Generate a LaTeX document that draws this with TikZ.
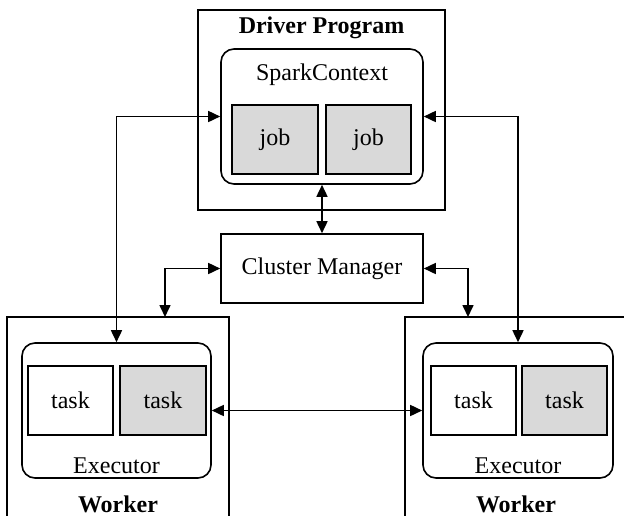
\documentclass[tikz,border=0pt]{standalone}
\usepackage{fontspec}
\setmainfont{Liberation Serif}
\usetikzlibrary{arrows.meta,calc}
\begin{document}
\begin{tikzpicture}[x=1pt,y=-1pt,
  every node/.style={font=\fontsize{24}{28}\selectfont},
  outerbox/.style={draw,line width=1.6pt,rectangle,inner sep=0pt},
  roundbox/.style={draw,line width=1.6pt,rectangle,rounded corners=13pt,inner sep=0pt},
  graybox/.style={draw,line width=1.6pt,rectangle,fill=gray!30,inner sep=0pt},
  whitebox/.style={draw,line width=1.6pt,rectangle,fill=white,inner sep=0pt},
  txt/.style={inner sep=0pt,anchor=center},
  title/.style={inner sep=0pt,anchor=center,font=\fontsize{24}{28}\selectfont\bfseries},
  arr/.style={line width=1.6pt,{Triangle[length=12pt,width=11pt]}-{Triangle[length=12pt,width=11pt]}},
  arrone/.style={line width=1.6pt,-{Triangle[length=12pt,width=11pt]}}]
\useasboundingbox (0,0) rectangle (624,515);
\clip (0,0) rectangle (624,515);
% Driver program
\node[outerbox,minimum width=247pt,minimum height=200pt] (drv) at (321.5,110) {};
\node[title] (drvt) at (321.5,28) {Driver Program};
\node[roundbox,minimum width=202pt,minimum height=135pt] (sc) at (322,116.5) {};
\node[txt] (sct) at (322,75) {SparkContext};
\node[graybox,minimum width=86pt,minimum height=69pt] (job1) at (275,139.5) {job};
\node[graybox,minimum width=85pt,minimum height=69pt] (job2) at (368.5,139.5) {job};
% Cluster manager
\node[outerbox,minimum width=202pt,minimum height=69pt] (cm) at (322,268.5) {Cluster Manager};
% Left worker
\node[outerbox,minimum width=222pt,minimum height=230pt] (lw) at (118,432) {};
\node[title] (lwt) at (118,504) {Worker};
\node[roundbox,minimum width=189pt,minimum height=135pt] (lexe) at (116.5,410.5) {};
\node[txt] (lext) at (116.5,466) {Executor};
\node[whitebox,minimum width=85pt,minimum height=69pt] (lt1) at (70.5,400.5) {task};
\node[graybox,minimum width=86pt,minimum height=69pt] (lt2) at (163,400.5) {task};
% Right worker
\node[outerbox,minimum width=222pt,minimum height=230pt] (rw) at (516,432) {};
\node[title] (rwt) at (516,504) {Worker};
\node[roundbox,minimum width=190pt,minimum height=135pt] (rexe) at (518,410.5) {};
\node[txt] (rext) at (518,466) {Executor};
\node[whitebox,minimum width=85pt,minimum height=69pt] (rt1) at (473.5,400.5) {task};
\node[graybox,minimum width=85pt,minimum height=69pt] (rt2) at (564.5,400.5) {task};
% connector end points on worker tops
\coordinate (lwin) at (165,317);
\coordinate (rwin) at (468,317);
% connectors
\draw[arr] (sc.west) -| (lexe.north);
\draw[arr] (sc.east) -| (rexe.north);
\draw[arr] (sc.south) -- (cm.north);
\draw[arr] (cm.west) -| (lwin);
\draw[arr] (cm.east) -| (rwin);
\draw[arr] (lexe.east) -- (rexe.west);
\end{tikzpicture}
\end{document}
